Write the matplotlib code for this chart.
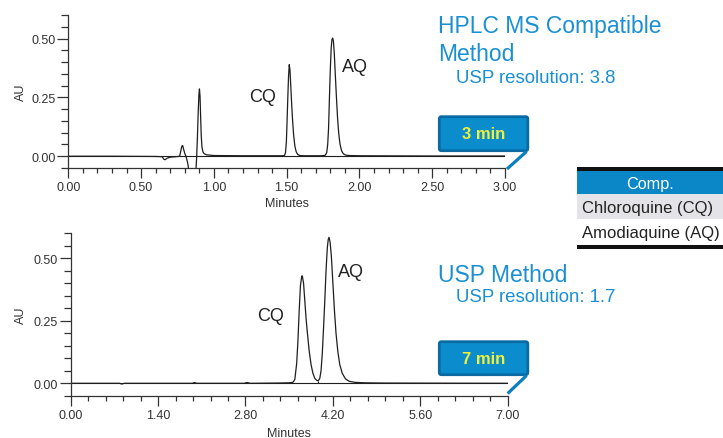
import matplotlib
matplotlib.use("Agg")
import matplotlib.pyplot as plt
from matplotlib.patches import FancyBboxPatch, Rectangle
from matplotlib.ticker import MultipleLocator, FormatStrFormatter

plt.rcParams['font.family'] = ['Liberation Sans', 'DejaVu Sans']

# ---------------- data ----------------
top_time = [0.00, 0.30, 0.60, 0.645, 0.655, 0.665, 0.68, 0.70, 0.74, 0.765,
            0.772, 0.780, 0.786, 0.792, 0.800, 0.808, 0.815, 0.822, 0.830, 0.840,
            0.870, 0.877, 0.882, 0.887, 0.892, 0.897, 0.901, 0.905, 0.909, 0.913,
            0.918, 0.925, 0.935, 0.950, 1.000, 1.200, 1.470,
            1.485, 1.492, 1.498, 1.503, 1.508, 1.513, 1.518, 1.523, 1.529, 1.535,
            1.541, 1.548, 1.556, 1.565, 1.575, 1.590, 1.620,
            1.740, 1.765, 1.775, 1.782, 1.788, 1.794, 1.800, 1.806, 1.811, 1.816,
            1.821, 1.827, 1.834, 1.842, 1.850, 1.858, 1.867, 1.878, 1.890, 1.905,
            1.930, 2.000, 2.500, 3.000]
top_au = [0.000, 0.000, -0.001, -0.002, -0.012, -0.015, -0.008, -0.004, -0.002, 0.000,
          0.020, 0.043, 0.045, 0.030, 0.012, 0.000, -0.015, -0.035, -0.070, -0.120,
          -0.120, -0.060, 0.000, 0.080, 0.180, 0.260, 0.286, 0.255, 0.170, 0.090,
          0.040, 0.018, 0.010, 0.006, 0.003, 0.002, 0.002,
          0.003, 0.015, 0.060, 0.150, 0.250, 0.340, 0.389, 0.365, 0.290, 0.215,
          0.150, 0.090, 0.045, 0.020, 0.008, 0.003, 0.002,
          0.002, 0.004, 0.015, 0.050, 0.120, 0.250, 0.370, 0.460, 0.495, 0.502,
          0.490, 0.440, 0.350, 0.250, 0.160, 0.095, 0.050, 0.022, 0.010, 0.005,
          0.003, 0.002, 0.001, 0.001]

bot_time = [0.00, 0.78, 0.82, 0.86, 1.95, 1.98, 2.02, 2.78, 2.82, 2.88,
            3.30, 3.50, 3.56, 3.59, 3.62, 3.64, 3.66, 3.68, 3.70, 3.71,
            3.73, 3.75, 3.77, 3.79, 3.82, 3.85, 3.88, 3.91, 3.94, 3.966,
            3.99, 4.01, 4.03, 4.05, 4.07, 4.09, 4.11, 4.125, 4.138, 4.155,
            4.175, 4.20, 4.225, 4.25, 4.28, 4.31, 4.35, 4.40, 4.46, 4.55,
            4.70, 5.00, 7.00]
bot_au = [0.000, 0.000, -0.003, 0.000, 0.000, 0.003, 0.000, 0.000, 0.003, 0.000,
          0.001, 0.002, 0.004, 0.015, 0.080, 0.170, 0.290, 0.390, 0.428, 0.430,
          0.400, 0.330, 0.260, 0.205, 0.130, 0.075, 0.040, 0.020, 0.012, 0.010,
          0.020, 0.050, 0.120, 0.220, 0.330, 0.450, 0.540, 0.575, 0.584, 0.565,
          0.510, 0.400, 0.290, 0.200, 0.125, 0.075, 0.040, 0.018, 0.008, 0.004,
          0.002, 0.001, 0.000]
bot_valley = (3.966, 0.010)

peak_names = ["CQ", "AQ"]
top_label_pos = [(1.337, 0.235), (1.966, 0.360)]
bot_label_pos = [(3.197, 0.253), (4.485, 0.430)]

top_title = ["HPLC MS Compatible", "Method"]
top_subtitle = "USP resolution: 3.8"
bot_title = "USP Method"
bot_subtitle = "USP resolution: 1.7"
top_callout = "3 min"
bot_callout = "7 min"

table_header = "Comp."
table_rows = ["Chloroquine (CQ)", "Amodiaquine (AQ)"]

# ---------------- style ----------------
BLUE_TXT = '#1a8fd4'
BOX_FACE = '#0b8dcd'
BOX_EDGE = '#0a6ba4'
HEAD_BLUE = '#0b87c8'
TRACE = '#1e1e1e'
AXC = '#333333'

W, H = 723, 439
fig = plt.figure(figsize=(W / 100, H / 100), dpi=100)


def px_axes(left, top, right, bottom):
    return fig.add_axes([left / W, (H - bottom) / H, (right - left) / W, (bottom - top) / H])


def style_axes(ax, xmax, ymax, xmajor, xminor, ylab_x, ylab_y, xlab_y):
    ax.set_xlim(0, xmax)
    ax.set_ylim(-0.05, ymax)
    for s in ['top', 'right']:
        ax.spines[s].set_visible(False)
    for s in ['left', 'bottom']:
        ax.spines[s].set_color(AXC)
        ax.spines[s].set_linewidth(0.9)
    ax.xaxis.set_major_locator(MultipleLocator(xmajor))
    ax.xaxis.set_minor_locator(MultipleLocator(xminor))
    ax.yaxis.set_major_locator(MultipleLocator(0.25))
    ax.yaxis.set_minor_locator(MultipleLocator(0.05))
    ax.xaxis.set_major_formatter(FormatStrFormatter('%.2f'))
    ax.yaxis.set_major_formatter(FormatStrFormatter('%.2f'))
    ax.tick_params(axis='x', which='major', length=7, width=0.9, color=AXC,
                   labelsize=9, labelcolor=AXC, pad=2.5)
    ax.tick_params(axis='x', which='minor', length=3.6, width=0.9, color=AXC)
    ax.tick_params(axis='y', which='major', length=8, width=0.9, color=AXC,
                   labelsize=9, labelcolor=AXC, pad=1)
    ax.tick_params(axis='y', which='minor', length=4.8, width=0.9, color=AXC)
    ax.set_xlabel("Minutes", fontsize=9, color=AXC)
    ax.set_ylabel("AU", fontsize=9, color=AXC)
    ax.xaxis.set_label_coords(0.5, xlab_y)
    ax.yaxis.set_label_coords(ylab_x, ylab_y)
    ax.patch.set_alpha(0)


ax1 = px_axes(68.3, 16, 505, 169)
style_axes(ax1, 3.0, 0.60, 0.5, 0.1, -0.095, 0.5, -0.19)
ax1.plot([0, 3.0], [0, 0], color=TRACE, lw=0.8)
ax1.plot(top_time, top_au, color=TRACE, lw=0.9)
for name, (tx, ty) in zip(peak_names, top_label_pos):
    ax1.text(tx, ty, name, fontsize=13, color='#222222', ha='center', va='baseline')

ax2 = px_axes(70.7, 234.3, 507.7, 396.8)
style_axes(ax2, 7.0, 0.60, 1.4, 0.28, -0.10, 0.5, -0.195)
ax2.plot([0, 7.0], [0, 0], color=TRACE, lw=0.8)
ax2.plot(bot_time, bot_au, color=TRACE, lw=0.9)
ax2.vlines(bot_valley[0], 0, bot_valley[1], color=TRACE, lw=0.8)
for name, (tx, ty) in zip(peak_names, bot_label_pos):
    ax2.text(tx, ty, name, fontsize=13, color='#222222', ha='center', va='baseline')

# ---------------- overlay (pixel coords) ----------------
ov = fig.add_axes([0, 0, 1, 1])
ov.set_xlim(0, W)
ov.set_ylim(H, 0)
ov.axis('off')

ov.text(438.5, 33.3, top_title[0], fontsize=16.5, color=BLUE_TXT, va='baseline', ha='left')
ov.text(438.5, 60.7, top_title[1], fontsize=16.5, color=BLUE_TXT, va='baseline', ha='left')
ov.text(455.5, 83.3, top_subtitle, fontsize=13.4, color=BLUE_TXT, va='baseline', ha='left')
ov.text(438.5, 282.3, bot_title, fontsize=16.5, color=BLUE_TXT, va='baseline', ha='left')
ov.text(455.5, 301.7, bot_subtitle, fontsize=13.4, color=BLUE_TXT, va='baseline', ha='left')


def callout(x0, y0, x1, y1, tail0, tail1, label):
    ov.plot([tail0[0], tail1[0]], [tail0[1], tail1[1]], color='#0a7fc0', lw=2.3,
            solid_capstyle='butt')
    box = FancyBboxPatch((x0, y0), x1 - x0, y1 - y0,
                         boxstyle="round,pad=0,rounding_size=2",
                         facecolor=BOX_FACE, edgecolor=BOX_EDGE, lw=2.0)
    ov.add_patch(box)
    ov.text((x0 + x1) / 2, (y0 + y1) / 2, label, fontsize=12, fontweight='bold',
            color='#eef03c', ha='center', va='center')


callout(439.3, 117.7, 527.8, 151.7, (526.5, 152.5), (507, 170), top_callout)
callout(439.3, 342.7, 527.8, 375.7, (526.5, 376.5), (507.7, 394.5), bot_callout)

# table
tx0, tx1 = 577, 723
ov.add_patch(Rectangle((tx0, 172), tx1 - tx0, 23, facecolor=HEAD_BLUE, edgecolor='none'))
ov.text((tx0 + tx1) / 2, 189, table_header, fontsize=11.7, color='white',
        ha='center', va='baseline')
for i, row in enumerate(table_rows):
    top = 195 + 25 * i
    face = '#e4e4e8' if i % 2 == 0 else 'white'
    ov.add_patch(Rectangle((tx0, top), tx1 - tx0, 25, facecolor=face, edgecolor='none'))
    ov.text(581.7, top + 18.3, row, fontsize=12, color='#222222', ha='left', va='baseline')
ov.plot([tx0, tx1], [170.3, 170.3], color='#111111', lw=2.9, solid_capstyle='butt')
ov.plot([tx0, tx1], [248, 248], color='#111111', lw=2.9, solid_capstyle='butt')

fig.savefig("out.png", dpi=100)
